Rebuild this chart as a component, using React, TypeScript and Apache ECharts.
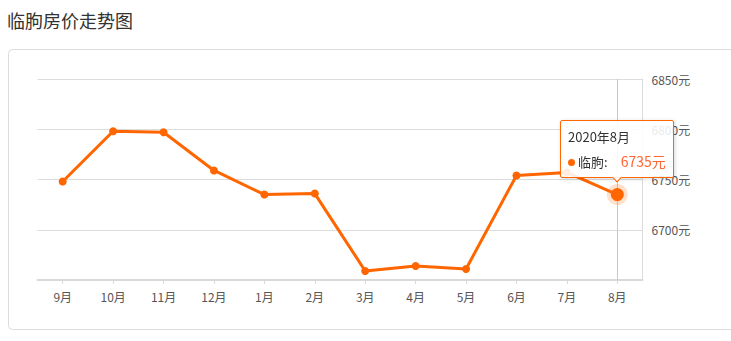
import React, { useEffect, useRef } from "react";
import * as echarts from "echarts";

const titleText = "临朐房价走势图";
const seriesName = "临朐";
const categories = ["9月", "10月", "11月", "12月", "1月", "2月", "3月", "4月", "5月", "6月", "7月", "8月"];
const periods = [
  "2019年9月", "2019年10月", "2019年11月", "2019年12月", "2020年1月", "2020年2月",
  "2020年3月", "2020年4月", "2020年5月", "2020年6月", "2020年7月", "2020年8月",
];
const prices = [6748, 6798, 6797, 6759, 6735, 6736, 6659, 6664, 6661, 6754, 6757, 6735];
const yTicks = [6650, 6700, 6750, 6800, 6850];
const highlightIndex = 11;

const ORANGE = "#ff6600";
const FONT = '"Microsoft YaHei", "Noto Sans CJK SC", "Noto Sans", sans-serif';

export default function App() {
  const ref = useRef<HTMLDivElement>(null);

  useEffect(() => {
    if (!ref.current) return;
    const chart = echarts.init(ref.current, undefined, { renderer: "svg" });

    const lineData = prices.map((v, i) =>
      i === highlightIndex ? { value: v, symbolSize: 13 } : { value: v }
    );
    const haloData = prices.map((v, i) => (i === highlightIndex ? v : null));

    chart.setOption({
      animation: false,
      textStyle: { fontFamily: FONT },
      title: {
        text: titleText,
        left: 7,
        top: 11,
        padding: 0,
        textStyle: { fontSize: 18, fontWeight: "normal", color: "#333", fontFamily: FONT },
      },
      graphic: [
        {
          type: "rect",
          shape: { x: 8.5, y: 49.5, width: 740, height: 280, r: 4 },
          style: { fill: "none", stroke: "#dcdcdc", lineWidth: 1 },
          silent: true,
          z: -10,
        },
      ],
      grid: { left: 37.5, right: 88.5, top: 79, bottom: 61 },
      tooltip: {
        trigger: "item",
        triggerOn: "none",
        alwaysShowContent: true,
        position: "top",
        backgroundColor: "rgba(255,255,255,0.88)",
        borderColor: ORANGE,
        borderWidth: 1,
        padding: [6, 7, 5, 7],
        textStyle: { color: "#333", fontSize: 13, fontFamily: FONT },
        extraCssText: "box-shadow: 1px 1px 4px rgba(0,0,0,0.15); border-radius: 2px;",
        formatter: (p: any) => {
          const i = p.dataIndex;
          const v = prices[i];
          return (
            `<div style="line-height:20px;font-size:13px;color:#333">${periods[i]}</div>` +
            `<div style="line-height:20px;margin-top:4px;font-size:13px;color:#333;white-space:nowrap">` +
            `<span style="display:inline-block;width:7px;height:7px;border-radius:50%;background:${ORANGE};margin-right:3px;vertical-align:middle;position:relative;top:-1px"></span>` +
            `${seriesName}:<span style="color:#ff6633;margin-left:13px;font-size:14px">${v}元</span></div>`
          );
        },
      },
      xAxis: {
        type: "category",
        data: categories,
        boundaryGap: true,
        axisLine: { show: true, lineStyle: { color: "#d9d9d9", width: 2 } },
        axisTick: { show: true, alignWithLabel: true, length: 4, lineStyle: { color: "#d9d9d9" } },
        axisLabel: { color: "#555", fontSize: 12, margin: 10, fontFamily: FONT },
        splitLine: { show: false },
      },
      yAxis: {
        type: "value",
        position: "right",
        min: yTicks[0],
        max: yTicks[yTicks.length - 1],
        interval: 50,
        axisLine: { show: true, lineStyle: { color: "#dcdcdc", width: 1 } },
        axisTick: { show: false },
        axisLabel: {
          color: "#555",
          fontSize: 12,
          margin: 9,
          fontFamily: FONT,
          formatter: (v: number) => (v === yTicks[0] ? "" : `${v}元`),
        },
        splitLine: { show: true, lineStyle: { color: "#dcdcdc", width: 1 } },
      },
      series: [
        {
          type: "scatter",
          name: "halo",
          data: haloData,
          symbol: "circle",
          symbolSize: 21,
          itemStyle: { color: "rgba(255,102,0,0.25)" },
          silent: true,
          tooltip: { show: false },
          emphasis: { disabled: true },
          z: 1,
          markLine: {
            silent: true,
            symbol: ["none", "none"],
            label: { show: false },
            lineStyle: { color: "#c8c8c8", type: "solid", width: 1 },
            emphasis: { disabled: true },
            data: [{ xAxis: categories[highlightIndex] }],
            z: 1,
          },
        },
        {
          type: "line",
          name: seriesName,
          data: lineData,
          symbol: "circle",
          symbolSize: 8,
          showSymbol: true,
          lineStyle: { color: ORANGE, width: 3 },
          itemStyle: { color: ORANGE },
          emphasis: { disabled: true },
          z: 3,
        },
      ],
    });

    const show = () =>
      chart.dispatchAction({ type: "showTip", seriesIndex: 1, dataIndex: highlightIndex });
    show();
    const t = setTimeout(show, 50);

    return () => {
      clearTimeout(t);
      chart.dispose();
    };
  }, []);

  return (
    <div
      ref={ref}
      style={{ position: "absolute", left: 0, top: 0, width: 731, height: 341, background: "#fff" }}
    />
  );
}
